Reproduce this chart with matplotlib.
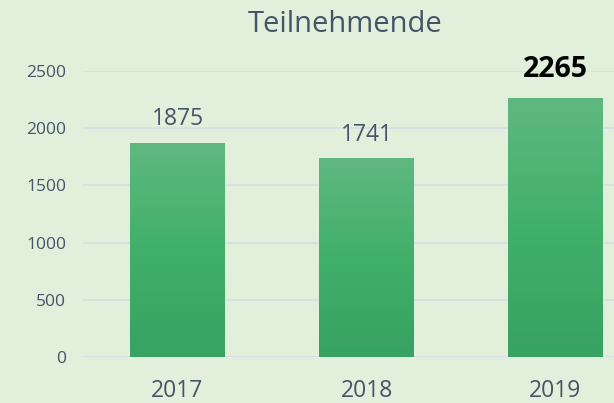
import matplotlib
matplotlib.use("Agg")
import matplotlib.pyplot as plt
import numpy as np
from matplotlib.colors import LinearSegmentedColormap

years = ["2017", "2018", "2019"]
values = [1875, 1741, 2265]
yticks = [0, 500, 1000, 1500, 2000, 2500]

BG = "#E2EFDA"
TXT = "#44546A"
plt.rcParams['font.family'] = ['Open Sans', 'DejaVu Sans']

W, H = 614, 403
fig = plt.figure(figsize=(W/100, H/100), dpi=100, facecolor=BG)
ax = fig.add_axes([83/W, 46/H, 567/W, 286/H], facecolor=BG)

x = np.arange(len(years))
bars = ax.bar(x, values, width=0.5, color="none", edgecolor="none", zorder=3)

cmap = LinearSegmentedColormap.from_list(
    "g", [(0.0, "#37A262"), (0.5, "#41B06B"), (1.0, "#60B880")])
grad = np.linspace(0, 1, 256).reshape(-1, 1)
for b in bars:
    x0, y0 = b.get_x(), b.get_y()
    w, h = b.get_width(), b.get_height()
    im = ax.imshow(grad, cmap=cmap, origin="lower", aspect="auto",
                   extent=[x0, x0 + w, y0, y0 + h], zorder=3)
    im.set_clip_path(b)

ax.set_xlim(-0.5, len(years) - 0.5)
ax.set_ylim(0, 2500)
ax.set_yticks(yticks)
ax.set_xticks(x)
ax.set_xticklabels(years)
ax.yaxis.grid(True, color="#D8DFE8", linewidth=1.3, zorder=0)
ax.set_axisbelow(True)
for s in ax.spines.values():
    s.set_visible(False)
ax.tick_params(axis="y", length=0, pad=12, labelsize=12.5, labelcolor=TXT)
ax.tick_params(axis="x", length=0, pad=16, labelsize=16.5, labelcolor=TXT)

for i, v in enumerate(values):
    if i == len(values) - 1:
        ax.annotate(f"{v}", (x[i], v), xytext=(0, 10), textcoords="offset points",
                    ha="center", va="bottom", fontsize=20.5, fontweight="bold",
                    color="black", annotation_clip=False)
    else:
        ax.annotate(f"{v}", (x[i], v), xytext=(0, 8), textcoords="offset points",
                    ha="center", va="bottom", fontsize=16.5, color=TXT,
                    annotation_clip=False)

fig.text(345/W, 1 - 24/H, "Teilnehmende", ha="center", va="center",
         fontsize=21, color=TXT)

fig.savefig("out.png", dpi=100, facecolor=BG)
